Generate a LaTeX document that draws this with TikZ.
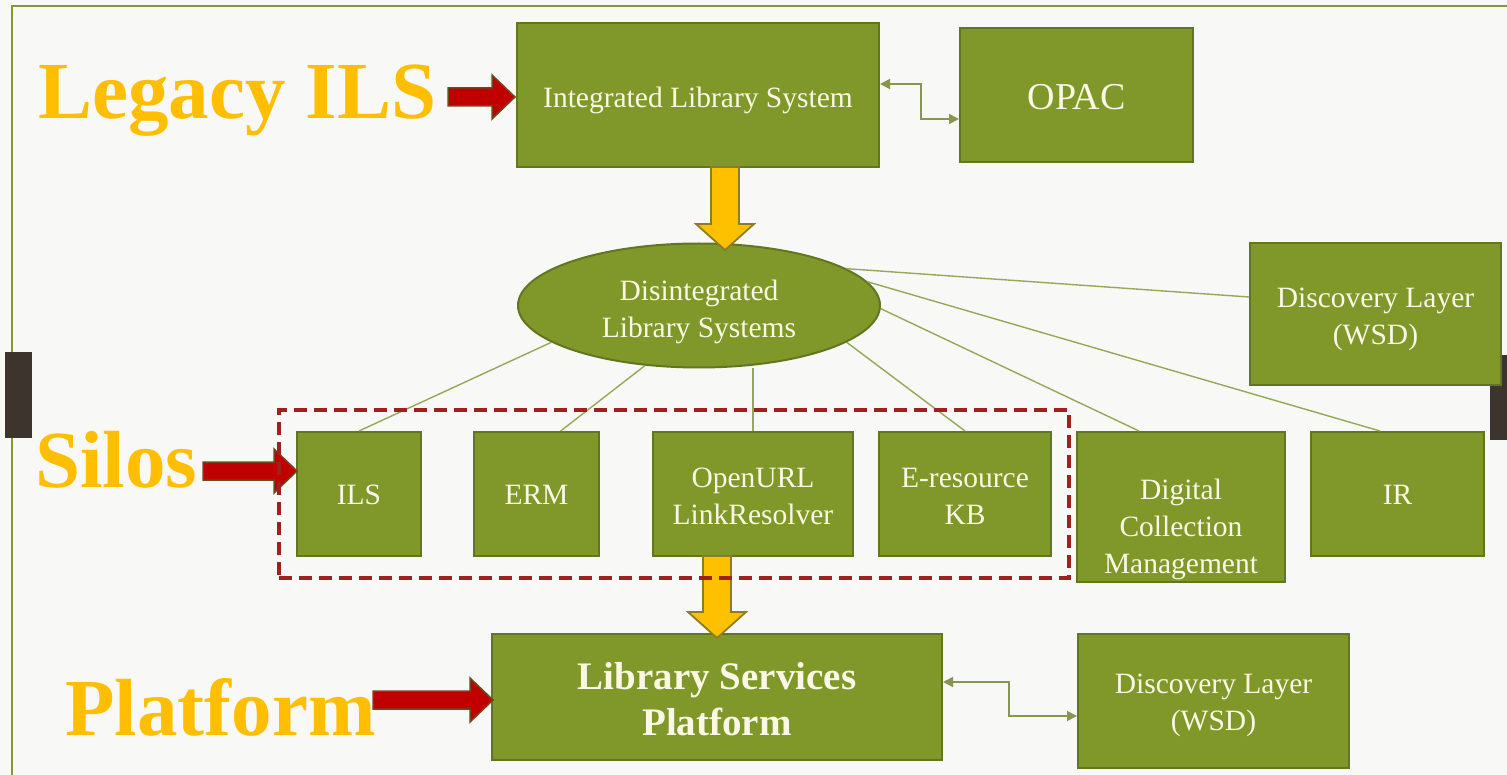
\documentclass[tikz,border=0pt]{standalone}
\usepackage{fontspec}
\setmainfont{Liberation Serif}
\usetikzlibrary{arrows.meta,calc,fit,shapes.geometric}
\definecolor{bgc}{RGB}{248,248,246}
\definecolor{boxfill}{RGB}{128,152,42}
\definecolor{boxline}{RGB}{98,118,32}
\definecolor{boxtext}{RGB}{250,248,228}
\definecolor{framec}{RGB}{132,152,52}
\definecolor{thinc}{RGB}{150,168,88}
\definecolor{labelc}{RGB}{255,190,0}
\definecolor{redarrow}{RGB}{192,0,0}
\definecolor{redline}{RGB}{112,72,30}
\definecolor{yelarrow}{RGB}{255,192,0}
\definecolor{yelline}{RGB}{140,125,35}
\definecolor{dashc}{RGB}{160,32,32}
\definecolor{tabc}{RGB}{62,52,46}
\newcommand{\myharrow}[3]{%
  \path[redblock] (#1,#3-9) -- (#2-23,#3-9) -- (#2-23,#3-22) -- (#2,#3) -- (#2-23,#3+22) -- (#2-23,#3+9) -- (#1,#3+9) -- cycle;}
\newcommand{\myvarrow}[3]{%
  \path[yelblock] (#1-14,#2) -- (#1-14,#3-26) -- (#1-29,#3-26) -- (#1,#3) -- (#1+29,#3-26) -- (#1+14,#3-26) -- (#1+14,#2) -- cycle;}
\begin{document}
\begin{tikzpicture}[x=1pt,y=-1pt,
  box/.style={draw=boxline, fill=boxfill, line width=2pt, inner sep=0pt},
  tx/.style={text=boxtext, align=center, inner sep=0pt, font=\fontsize{29.5}{37}\selectfont},
  lbl/.style={text=labelc, inner sep=0pt, font=\bfseries\fontsize{81}{90}\selectfont},
  thin/.style={draw=thinc, line width=1.4pt},
  bidir/.style={draw=thinc!90!black, line width=1.6pt, {Triangle[length=10pt,width=10pt]}-{Triangle[length=10pt,width=10pt]}},
  redblock/.style={fill=redarrow, draw=redline, line width=1.5pt, line join=miter},
  yelblock/.style={fill=yelarrow, draw=yelline, line width=1.8pt, line join=miter},
  dashbox/.style={draw=dashc, line width=3.5pt, dash pattern=on 13pt off 7pt, inner sep=0pt}
]
\useasboundingbox (0,0) rectangle (1507,775);
\fill[bgc] (0,0) rectangle (1507,775);
\draw[framec, line width=2.2pt] (12,775) -- (12,6) -- (1507,6);
\fill[tabc] (5,352) rectangle (32,438);
\fill[tabc] (1490,355) rectangle (1507,440);

% labels
\node[lbl, anchor=base west] (legacy) at (38,119) {Legacy ILS};
\node[lbl, anchor=base west] (silos) at (35,487) {Silos};
\node[lbl, anchor=base west] (platform) at (65,735) {Platform};

% boxes
\node[box, minimum width=362pt, minimum height=144pt,
  label={[tx, yshift=-5pt]center:Integrated Library System}] (ils) at (698,95) {};
\node[box, minimum width=233pt, minimum height=134pt,
  label={[tx, yshift=-2pt, font=\fontsize{38}{44}\selectfont]center:OPAC}] (opac) at (1076.5,95) {};
\node[box, ellipse, minimum width=362pt, minimum height=124pt,
  label={[tx, yshift=-6pt]center:Disintegrated\\Library Systems}] (dls) at (699,305.5) {};
\node[box, minimum width=251pt, minimum height=142pt,
  label={[tx, yshift=-5pt]center:Discovery Layer\\(WSD)}] (dl1) at (1375.5,314) {};
\node[box, minimum width=124pt, minimum height=124pt,
  label={[tx, yshift=-1pt]center:ILS}] (sils) at (359,494) {};
\node[box, minimum width=125pt, minimum height=124pt,
  label={[tx, yshift=-1pt]center:ERM}] (erm) at (536.5,494) {};
\node[box, minimum width=200pt, minimum height=124pt,
  label={[tx, yshift=-2pt]center:OpenURL\\LinkResolver}] (openurl) at (753,494) {};
\node[box, minimum width=172pt, minimum height=124pt,
  label={[tx, yshift=-2pt]center:E-resource\\KB}] (ekb) at (965,494) {};
\node[box, minimum width=208pt, minimum height=150pt,
  label={[tx, yshift=-22pt]center:Digital\\Collection\\Management}] (dcm) at (1181,507) {};
\node[box, minimum width=173pt, minimum height=124pt,
  label={[tx, yshift=-1pt]center:IR}] (ir) at (1397.5,494) {};
\node[box, minimum width=450pt, minimum height=126pt,
  label={[tx, yshift=-2pt, font=\bfseries\fontsize{39}{46}\selectfont]center:Library Services\\Platform}] (lsp) at (717,697) {};
\node[box, minimum width=271pt, minimum height=134pt,
  label={[tx, yshift=-4pt]center:Discovery Layer\\(WSD)}] (dl2) at (1213.5,701) {};

% thin connectors from ellipse
\draw[thin] (dls.194) -- (sils.north);
\draw[thin] (dls.228) -- ($(erm.north west)!0.69!(erm.north east)$);
\draw[thin] (openurl.north |- dls.south) -- (openurl.north);
\draw[thin] (dls.346) -- (ekb.north);
\draw[thin] (dls.359) -- ($(dcm.north west)!0.3!(dcm.north east)$);
\draw[thin] (dls.8) -- ($(ir.north west)!0.4!(ir.north east)$);
\draw[thin] (dls.14) -- ([yshift=17pt]dl1.west);

% bidirectional elbow connectors
\draw[bidir] ([yshift=11pt]ils.east) -- ++(41,0) |- ([yshift=-24pt]opac.west);
\draw[bidir] ([yshift=15pt]lsp.east) -- ++(66,0) |- ([yshift=-15pt]dl2.west);

% block arrows
\myvarrow{725}{167}{250}
\myvarrow{717}{556}{638}
\myharrow{448}{515}{97}
\myharrow{203}{297}{471}
\myharrow{373}{493}{700}

% dashed group
\node[dashbox, fit=(sils)(ekb), inner xsep=17pt, inner ysep=21pt] (silogroup) {};
\end{tikzpicture}
\end{document}
